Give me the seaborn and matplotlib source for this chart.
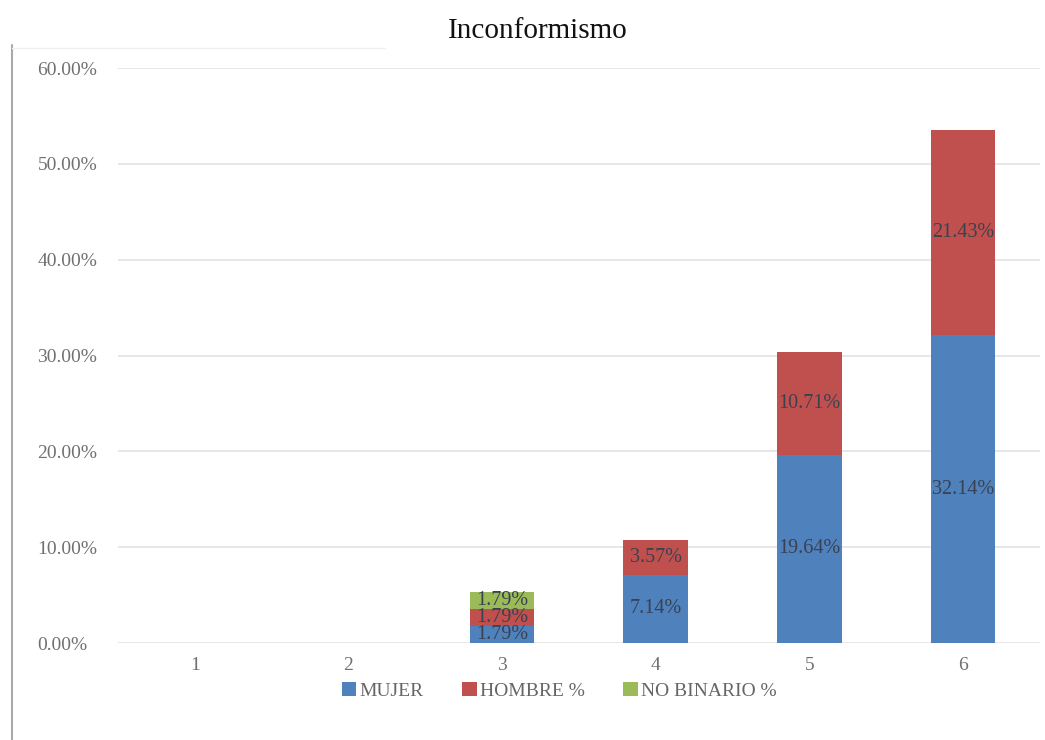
import pandas as pd
import matplotlib.pyplot as plt
import seaborn as sns
from matplotlib.lines import Line2D
from matplotlib.patches import Patch

# --- Data ---
categories = ["1", "2", "3", "4", "5", "6"]
mujer = [0, 0, 1.79, 7.14, 19.64, 32.14]
hombre = [0, 0, 1.79, 3.57, 10.71, 21.43]
no_binario = [0, 0, 1.79, 0, 0, 0]

series_names = ["MUJER", "HOMBRE %", "NO BINARIO %"]
colors = ["#4F81BD", "#C0504D", "#9BBB59"]

df = pd.DataFrame({"cat": categories, "MUJER": mujer,
                   "HOMBRE %": hombre, "NO BINARIO %": no_binario})

sns.set_style("white")
plt.rcParams['font.family'] = ['Liberation Serif', 'DejaVu Serif']

fig = plt.figure(figsize=(10.45, 7.40), dpi=100)
ax = fig.add_axes([0.113, 0.131, 0.882, 0.777])

bottom = [0.0] * len(categories)
for name, col in zip(series_names, colors):
    vals = df[name].tolist()
    sns.barplot(x=df["cat"], y=df[name], color=col, bottom=bottom,
                width=0.42, ax=ax, saturation=1, linewidth=0)
    # labels centred in each segment
    for i, v in enumerate(vals):
        if v > 0:
            ax.text(i, bottom[i] + v / 2, f"{v:.2f}%", ha="center", va="center",
                    fontsize=14.5, color="#3a4150")
    bottom = [b + v for b, v in zip(bottom, vals)]

ax.set_ylim(0, 60)
ax.set_yticks(range(0, 61, 10))
ax.set_yticklabels([f"{t:.2f}%" for t in range(0, 61, 10)])
ax.set_xlim(-0.5, 5.5)
ax.set_xlabel("")
ax.set_ylabel("")
ax.yaxis.grid(True, color="#e3e3e3", linewidth=1.2)
ax.set_axisbelow(True)
for s in ax.spines.values():
    s.set_visible(False)
ax.tick_params(axis="both", length=0, colors="#707070", labelsize=14)
ax.tick_params(axis="x", pad=10)
ax.tick_params(axis="y", pad=58)
for lab in ax.get_yticklabels():
    lab.set_horizontalalignment("left")

fig.suptitle("Inconformismo", y=0.975, x=0.515, fontsize=21, color="#111111")

handles = [Patch(facecolor=c, edgecolor="none") for c in colors]
fig.legend(handles, series_names, loc="center", bbox_to_anchor=(0.535, 0.066),
           ncol=3, frameon=False, fontsize=14, handlelength=0.75, handleheight=0.75,
           handletextpad=0.15, columnspacing=2.0, labelcolor="#666666")

# chart frame edges
fig.add_artist(Line2D([12 / 1045, 12 / 1045], [0, 1 - 45 / 740], color="#aaaaaa", linewidth=1.5))
fig.add_artist(Line2D([12 / 1045, 385 / 1045], [1 - 48 / 740, 1 - 48 / 740], color="#f0f0f0", linewidth=1))

plt.savefig("out.png", dpi=100)
